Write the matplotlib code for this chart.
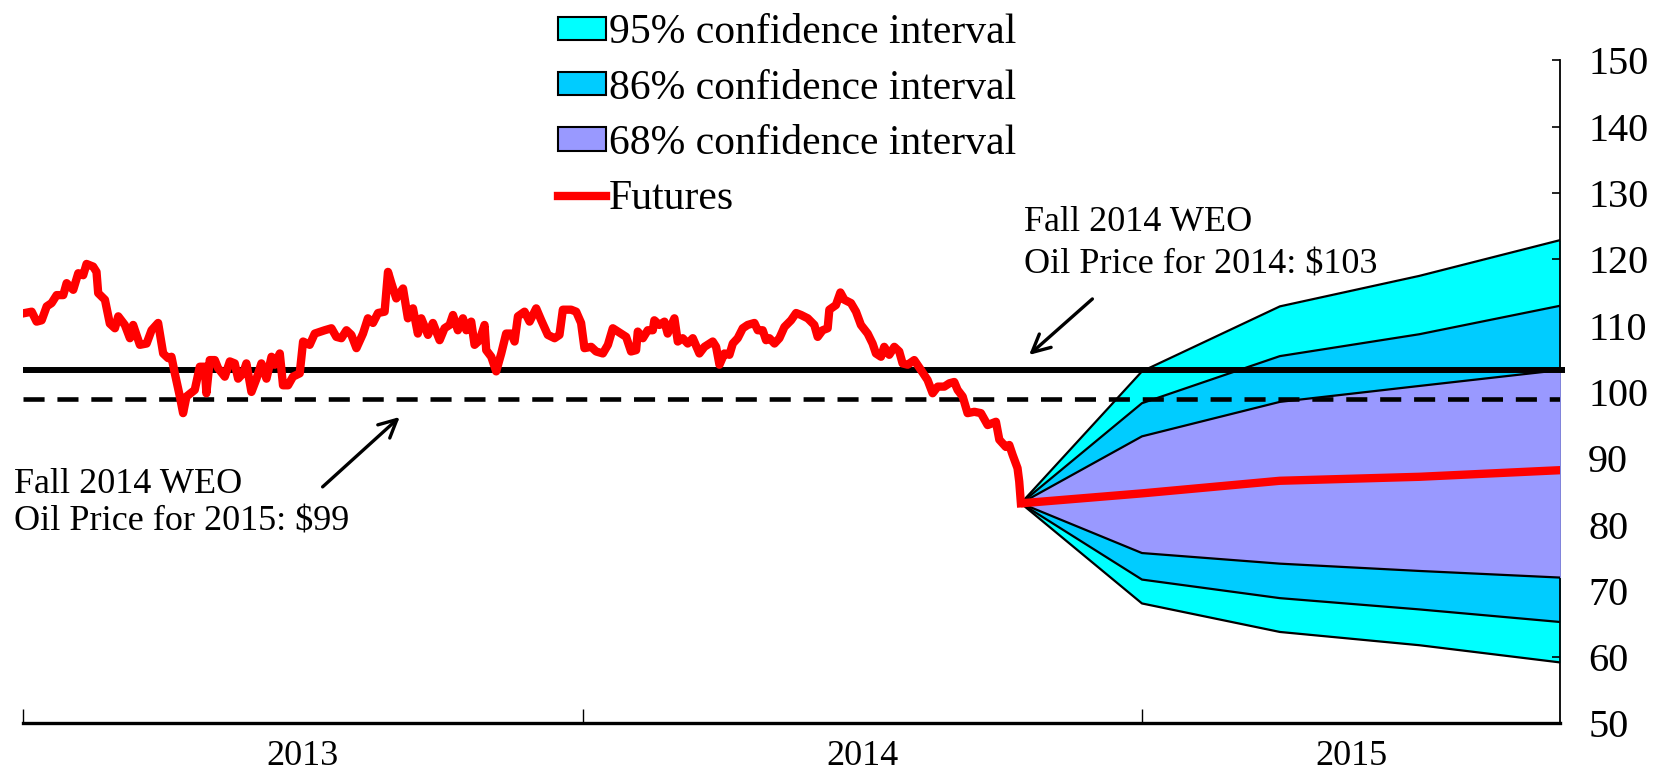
import matplotlib
matplotlib.use("Agg")
import matplotlib.pyplot as plt
from matplotlib.patches import Patch
from matplotlib.lines import Line2D
import numpy as np

plt.rcParams['font.family'] = ['Liberation Serif', 'DejaVu Serif']

# ---- Data (x in days since 1 Jan 2013) ----
hist_days = [1.1, 5.5, 8.7, 12.0, 15.3, 18.5, 21.8, 26.1, 28.3, 32.6, 35.9, 39.1, 41.3, 45.6, 47.8, 48.9,
             53.3, 56.5, 59.8, 62.0, 66.3, 69.6, 71.7, 76.1, 80.5, 83.7, 88.0, 91.3, 94.5, 96.7, 98.9,
             102.2, 104.3, 106.5, 111.9, 115.2, 118.4, 119.5, 121.7,
             125.0, 127.1, 131.5, 134.8, 138.0, 140.2, 143.4, 145.6, 148.9, 152.2, 155.4, 158.7, 162.0,
             164.1, 167.4, 169.5, 172.8, 176.0, 180.4, 182.6, 186.9, 190.2, 196.7, 201.1, 204.3, 207.6,
             210.9, 214.1, 217.4, 221.7, 224.9, 228.2, 231.5, 235.8, 238.0, 240.2, 243.4, 247.8, 251.0, 254.3,
             257.5, 259.7, 264.1, 267.3, 271.7, 274.9, 278.2, 280.4, 283.6, 286.9, 289.1, 292.3, 294.5,
             297.8, 301.0, 302.1, 305.4, 308.6, 311.9, 315.1, 318.4, 320.6, 322.8, 327.1, 330.4, 334.7,
             338.0, 342.3, 346.7, 349.9, 352.1, 357.5, 360.8, 364.0, 366.2, 370.6, 373.8, 378.2, 381.5, 384.7,
             390.1, 393.4, 396.6, 399.9, 401.0, 404.3, 407.5, 410.8, 411.8, 415.1, 418.4, 420.5, 424.9,
             427.1, 430.3, 433.6, 436.9, 441.2, 444.5, 449.9, 452.1, 454.3, 457.5, 460.8, 463.0, 466.2,
             469.5, 472.7, 477.1, 479.3, 482.5, 484.7, 486.9, 490.2, 493.4, 496.7, 501.0, 504.3, 507.6, 511.9,
             516.2, 518.4, 521.6, 524.9, 526.0, 530.3, 533.2, 535.8, 540.1, 543.4, 546.6, 551.0, 554.2,
             556.4, 559.7, 561.8, 565.1, 568.4, 571.6, 573.8, 577.1, 581.4, 585.8, 590.1, 593.4, 596.7,
             601.0, 604.3, 607.5, 609.7, 613.0, 616.2, 620.6, 624.9, 629.3, 634.7, 636.9, 641.2, 643.4,
             645.6, 648.8, 649.9, 651.0]
hist_price = [111.9, 112.1, 110.6, 110.8, 112.9, 113.4, 114.6, 114.6, 116.4, 115.4, 117.9, 117.6, 119.3, 118.9, 118.1, 114.9,
              113.9, 110.3, 109.6, 111.4, 110.1, 108.1, 110.1, 107.1, 107.3, 109.3, 110.4, 105.8, 105.1, 105.3, 102.8,
              99.3, 96.8, 99.3, 100.3, 103.8, 103.8, 99.8, 104.8,
              104.8, 103.6, 102.3, 104.6, 104.3, 102.0, 102.8, 104.3, 100.0, 102.0, 104.3, 102.0, 105.3,
              104.1, 105.8, 101.0, 101.0, 102.3, 102.8, 107.6, 107.1, 108.8, 109.3, 109.6, 108.3, 108.1,
              109.3, 108.6, 106.6, 108.8, 111.1, 110.4, 111.9, 112.1, 118.1, 116.4, 114.1, 115.6, 111.1, 112.6,
              108.8, 111.1, 108.6, 110.4, 107.8, 109.6, 110.1, 111.6, 109.3, 111.1, 109.3, 110.6, 107.1,
              107.8, 110.1, 106.3, 105.3, 103.1, 105.8, 108.8, 108.8, 107.6, 111.4, 112.1, 110.6, 112.6,
              110.8, 108.6, 108.1, 108.6, 112.4, 112.4, 112.1, 110.4, 106.6, 106.8, 106.1, 105.8, 107.1, 109.6,
              108.8, 108.3, 106.1, 106.3, 109.1, 108.1, 109.3, 109.3, 110.8, 110.1, 110.6, 108.8, 111.1,
              107.6, 108.1, 107.3, 108.1, 105.8, 106.8, 107.6, 106.8, 104.1, 105.8, 105.6, 107.3, 108.1,
              109.6, 110.1, 110.4, 109.3, 109.3, 107.8, 108.1, 107.3, 108.1, 109.8, 110.8, 111.9, 111.6, 111.1,
              110.1, 108.3, 109.3, 109.6, 112.4, 113.1, 115.0, 113.9, 113.4, 112.1, 110.1, 108.8, 107.3,
              105.8, 105.3, 106.8, 105.6, 106.8, 106.1, 104.3, 104.1, 104.8, 103.3, 101.8, 99.8, 100.8,
              100.8, 101.3, 101.5, 100.3, 99.3, 96.8, 97.0, 96.8, 95.0, 95.5, 92.8, 91.7, 92.0,
              90.5, 88.5, 86.5, 83.2]

fan_days = [651.0, 730, 820, 911, 1003]
futures  = [83.2, 84.7, 86.6, 87.2, 88.2]
ci95_hi  = [83.2, 103.1, 112.9, 117.5, 122.9]
ci86_hi  = [83.2, 98.3, 105.4, 108.7, 113.0]
ci68_hi  = [83.2, 93.3, 98.5, 100.9, 103.3]
ci68_lo  = [83.2, 75.7, 74.1, 73.0, 72.0]
ci86_lo  = [83.2, 71.7, 68.9, 67.2, 65.3]
ci95_lo  = [83.2, 68.1, 63.8, 61.8, 59.2]

weo_2014 = 103.3
weo_2015 = 98.9

year_bounds = [0, 365, 730]
year_mids = [182.5, 547.5, 866.5]
year_labels = ['2013', '2014', '2015']
x_end = 1003
yticks = [50, 60, 70, 80, 90, 100, 110, 120, 130, 140, 150]

legend_labels = ['95% confidence interval', '86% confidence interval', '68% confidence interval', 'Futures']
c95, c86, c68 = '#00FFFF', '#00CCFF', '#9999FF'

FS = 26
FS_LEG = 30
FS_Y = 29

fig = plt.figure(figsize=(16.61, 7.76), dpi=100)
ax = fig.add_axes([0.014, 0.0677, 0.9254, 0.8545])

# fan
ax.fill_between(fan_days, ci95_lo, ci95_hi, color=c95, lw=0, zorder=1)
ax.fill_between(fan_days, ci86_lo, ci86_hi, color=c86, lw=0, zorder=2)
ax.fill_between(fan_days, ci68_lo, ci68_hi, color=c68, lw=0, zorder=3)
for s in [ci95_hi, ci86_hi, ci68_hi, ci68_lo, ci86_lo, ci95_lo]:
    ax.plot(fan_days, s, color='black', lw=1.6, zorder=4)

# WEO lines
ax.plot([0, x_end + 3], [weo_2014, weo_2014], color='black', lw=4.3, zorder=5,
        solid_capstyle='butt', clip_on=False)
ax.plot([0, x_end], [weo_2015, weo_2015], color='black', lw=3.3, zorder=5,
        dashes=(4.6, 2.8), dash_capstyle='butt')

# price lines
ax.plot(hist_days, hist_price, color='#FF0000', lw=6, zorder=6, solid_joinstyle='round')
ax.plot(fan_days, futures, color='#FF0000', lw=6, zorder=6, solid_capstyle='butt')

ax.set_xlim(0, x_end)
ax.set_ylim(50, 150)

for sp in ['top', 'left']:
    ax.spines[sp].set_visible(False)
ax.spines['bottom'].set_linewidth(2.4)
ax.spines['right'].set_linewidth(1.3)

ax.yaxis.tick_right()
ax.set_yticks(yticks)
ax.set_yticklabels([str(v) for v in yticks])
ax.tick_params(axis='y', direction='in', length=6, width=1.2, pad=20, labelsize=FS_Y)

ax.set_xticks(year_bounds)
ax.set_xticklabels([])
ax.set_xticks(year_mids, minor=True)
ax.set_xticklabels(year_labels, minor=True)
ax.tick_params(axis='x', which='major', direction='in', length=10, width=1.0)
ax.tick_params(axis='x', which='minor', length=0, pad=12, labelsize=FS)

# annotations
ax.text(-6, 86.0, 'Fall 2014 WEO', fontsize=FS, va='center', ha='left')
ax.text(-6, 80.4, 'Oil Price for 2015: $99', fontsize=FS, va='center', ha='left')
ax.text(653, 125.6, 'Fall 2014 WEO', fontsize=FS, va='center', ha='left')
ax.text(653, 119.1, 'Oil Price for 2014: $103', fontsize=FS, va='center', ha='left')
ax.annotate('', xy=(247, 96.5), xytext=(194, 85.4),
            arrowprops=dict(arrowstyle='->', lw=2.4, color='black', mutation_scale=32))
ax.annotate('', xy=(655, 105.3), xytext=(699, 114.3),
            arrowprops=dict(arrowstyle='->', lw=2.4, color='black', mutation_scale=32))

handles = [Patch(facecolor=c95, edgecolor='black', lw=1.5),
           Patch(facecolor=c86, edgecolor='black', lw=1.5),
           Patch(facecolor=c68, edgecolor='black', lw=1.5),
           Line2D([0], [0], color='#FF0000', lw=6)]
fig.legend(handles, legend_labels, loc='upper left', bbox_to_anchor=(0.336, 0.982),
           frameon=False, fontsize=FS_LEG, handlelength=1.15, handleheight=0.48,
           handletextpad=0.07, labelspacing=0.40, borderpad=0, borderaxespad=0)

fig.savefig('out.png', dpi=100)
